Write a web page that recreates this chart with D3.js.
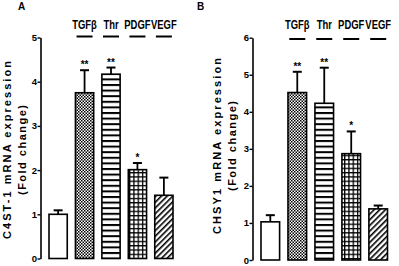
<!DOCTYPE html>
<html>
<head>
<meta charset="utf-8">
<script src="https://cdn.jsdelivr.net/npm/d3@7"></script>
<style>
  body { margin: 0; background: #fff; }
  text { font-family: Arial, "Liberation Sans", sans-serif; }
</style>
</head>
<body>
<div id="chart"></div>
<script>
// groups and treatment labels
var groups = ["Control", "TGFβ", "Thr", "PDGF", "VEGF"];
var treatmentLabels = ["TGFβ", "Thr", "PDGF", "VEGF"];

// panel A: C4ST-1
var c4stMean = [1.0, 3.75, 4.17, 2.01, 1.43];
var c4stErr = [0.09, 0.51, 0.15, 0.15, 0.40];
var c4stStars = ["", "**", "**", "*", ""];
var c4stTicks = [0, 1, 2, 3, 4, 5];

// panel B: CHSY1
var chsy1Mean = [1.03, 4.52, 4.23, 2.87, 1.38];
var chsy1Err = [0.18, 0.56, 0.96, 0.60, 0.09];
var chsy1Stars = ["", "**", "**", "*", ""];
var chsy1Ticks = [0, 1, 2, 3, 4, 5, 6];

var width = 399, height = 266;

var svg = d3.select("#chart")
  .append("svg")
    .attr("width", width)
    .attr("height", height);

// fill patterns, one per group
var defs = svg.append("defs");

var p1 = defs.append("pattern").attr("id", "pat-TGFb")
  .attr("patternUnits", "userSpaceOnUse").attr("width", 3).attr("height", 3);
p1.append("rect").attr("width", 3).attr("height", 3).attr("fill", "#fff");
p1.append("rect").attr("width", 1.5).attr("height", 1.5).attr("fill", "#000");
p1.append("rect").attr("x", 1.5).attr("y", 1.5).attr("width", 1.5).attr("height", 1.5).attr("fill", "#000");

var p2 = defs.append("pattern").attr("id", "pat-Thr")
  .attr("patternUnits", "userSpaceOnUse").attr("width", 6).attr("height", 5.6);
p2.append("rect").attr("width", 6).attr("height", 5.6).attr("fill", "#fff");
p2.append("rect").attr("y", 0).attr("width", 6).attr("height", 2).attr("fill", "#000");

var p3 = defs.append("pattern").attr("id", "pat-PDGF")
  .attr("patternUnits", "userSpaceOnUse").attr("width", 4.3).attr("height", 4.3);
p3.append("rect").attr("width", 4.3).attr("height", 4.3).attr("fill", "#fff");
p3.append("rect").attr("width", 4.3).attr("height", 1.3).attr("fill", "#000");
p3.append("rect").attr("width", 1.3).attr("height", 4.3).attr("fill", "#000");

var p4 = defs.append("pattern").attr("id", "pat-VEGF")
  .attr("patternUnits", "userSpaceOnUse").attr("width", 4).attr("height", 4)
  .attr("patternTransform", "rotate(45)");
p4.append("rect").attr("width", 4).attr("height", 4).attr("fill", "#fff");
p4.append("rect").attr("width", 1.6).attr("height", 4).attr("fill", "#000");

var fills = ["#fff", "url(#pat-TGFb)", "url(#pat-Thr)", "url(#pat-PDGF)", "url(#pat-VEGF)"];

function drawPanel(cfg) {
  var g = svg.append("g");

  var y = d3.scaleLinear().domain([0, cfg.ticks[cfg.ticks.length - 1]])
    .range([cfg.bottom, cfg.top]);
  var x = d3.scaleBand().domain(groups)
    .range([cfg.x0, cfg.x1]).paddingInner(0.31).paddingOuter(0);

  // y axis
  var axis = g.append("g")
    .attr("transform", "translate(" + cfg.axisX + ",0)")
    .call(d3.axisLeft(y).tickValues(cfg.ticks).tickFormat(d3.format("d")).tickSize(3).tickSizeOuter(0));
  axis.select(".domain").attr("stroke-width", 1.6);
  axis.selectAll(".tick line").attr("stroke-width", 1.4);
  axis.selectAll(".tick text").attr("font-size", "9.5px").attr("font-weight", "bold")
    .attr("font-family", "Arial, 'Liberation Sans', sans-serif").attr("x", -3.5).attr("fill", "#000");

  var rows = groups.map(function (d, i) {
    return {name: d, mean: cfg.mean[i], err: cfg.err[i], star: cfg.stars[i], fill: fills[i]};
  });

  // error bars (drawn first, bar covers the lower part)
  g.selectAll(".err").data(rows).enter().append("line")
    .attr("x1", function (d) { return x(d.name) + x.bandwidth() / 2; })
    .attr("x2", function (d) { return x(d.name) + x.bandwidth() / 2; })
    .attr("y1", function (d) { return y(d.mean); })
    .attr("y2", function (d) { return y(d.mean + d.err); })
    .attr("stroke", "#000").attr("stroke-width", 1.8);
  g.selectAll(".cap").data(rows).enter().append("line")
    .attr("x1", function (d) { return x(d.name) + x.bandwidth() / 2 - 4.5; })
    .attr("x2", function (d) { return x(d.name) + x.bandwidth() / 2 + 4.5; })
    .attr("y1", function (d) { return y(d.mean + d.err); })
    .attr("y2", function (d) { return y(d.mean + d.err); })
    .attr("stroke", "#000").attr("stroke-width", 2);

  // bars
  g.selectAll(".bar").data(rows).enter().append("rect")
    .attr("x", function (d) { return x(d.name); })
    .attr("y", function (d) { return y(d.mean); })
    .attr("width", x.bandwidth())
    .attr("height", function (d) { return y(0) - y(d.mean); })
    .attr("fill", function (d) { return d.fill; })
    .attr("stroke", "#000").attr("stroke-width", 1.6);

  // significance stars
  g.selectAll(".star").data(rows).enter().append("text")
    .attr("x", function (d) { return x(d.name) + x.bandwidth() / 2; })
    .attr("y", function (d) { return y(d.mean + d.err) - 2; })
    .attr("text-anchor", "middle")
    .attr("font-size", "10px").attr("font-weight", "bold")
    .text(function (d) { return d.star; });

  // treatment labels with dashes
  var lab = g.selectAll(".lab").data(treatmentLabels).enter().append("g")
    .attr("transform", function (d) {
      return "translate(" + (x(d) + x.bandwidth() / 2) + ",0)";
    });
  // condensed look: no narrow font installed, so squeeze horizontally
  lab.append("text")
    .attr("transform", "translate(0," + cfg.labelY + ") scale(0.7,1)")
    .attr("text-anchor", "middle")
    .attr("font-size", "13.5px").attr("font-weight", "bold")
    .text(function (d) { return d; });
  lab.append("line")
    .attr("x1", -8).attr("x2", 8)
    .attr("y1", cfg.dashY).attr("y2", cfg.dashY)
    .attr("stroke", "#000").attr("stroke-width", 2);

  // y axis title, two lines
  g.append("text")
    .attr("transform", "translate(" + cfg.title1X + "," + cfg.titleY + ") rotate(-90)")
    .attr("text-anchor", "middle")
    .attr("font-size", "11px").attr("font-weight", "bold")
    .attr("textLength", cfg.title1Len).attr("lengthAdjust", "spacing")
    .text(cfg.title1);
  g.append("text")
    .attr("transform", "translate(" + cfg.title2X + "," + cfg.titleY + ") rotate(-90)")
    .attr("text-anchor", "middle")
    .attr("font-size", "11px").attr("font-weight", "bold")
    .attr("textLength", cfg.title2Len).attr("lengthAdjust", "spacing")
    .text(cfg.title2);

  // panel letter
  g.append("text")
    .attr("x", cfg.letterX).attr("y", 10)
    .attr("font-family", "'Times New Roman', 'Liberation Serif', serif")
    .attr("font-size", "10px").attr("font-weight", "bold")
    .text(cfg.letter);
}

drawPanel({
  letter: "A", letterX: 18,
  mean: c4stMean, err: c4stErr, stars: c4stStars, ticks: c4stTicks,
  top: 37.5, bottom: 258.5, axisX: 40.5, x0: 49, x1: 173,
  labelY: 29, dashY: 36.5,
  title1: "C4ST-1 mRNA expression", title2: "(Fold change)",
  title1X: 11, title2X: 25.5, titleY: 150, title1Len: 178, title2Len: 90
});

drawPanel({
  letter: "B", letterX: 197,
  mean: chsy1Mean, err: chsy1Err, stars: chsy1Stars, ticks: chsy1Ticks,
  top: 37.7, bottom: 260, axisX: 252.5, x0: 261, x1: 387.5,
  labelY: 29, dashY: 39,
  title1: "CHSY1 mRNA expression", title2: "(Fold change)",
  title1X: 221, title2X: 236, titleY: 146, title1Len: 176, title2Len: 90
});
</script>
</body>
</html>
